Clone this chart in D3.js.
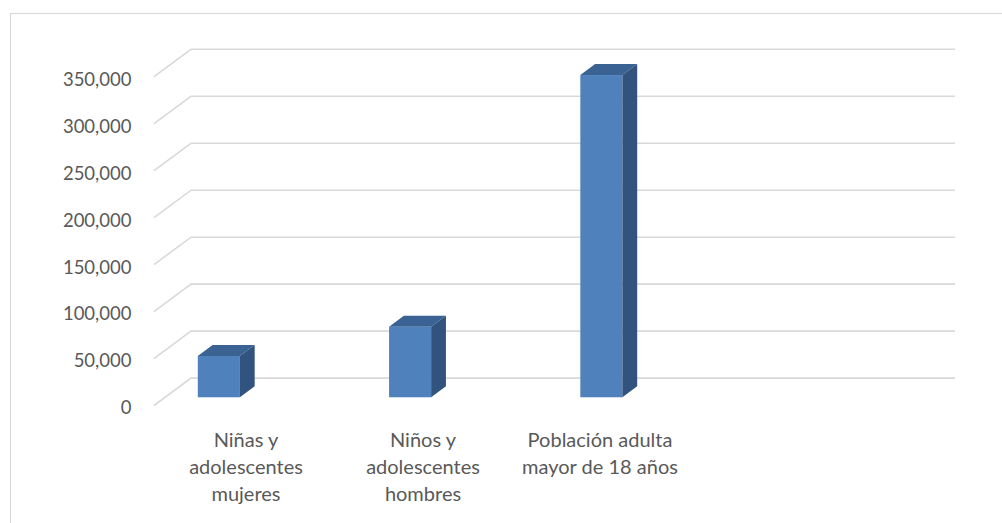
<!DOCTYPE html>
<html>
<head>
<meta charset="utf-8">
<script src="https://cdn.jsdelivr.net/npm/d3@7"></script>
<style>
  html, body { margin: 0; padding: 0; background: #ffffff; }
  svg { display: block; }
  text { font-family: Lato, "Open Sans", sans-serif; fill: #595959; }
</style>
</head>
<body>
<svg id="chart" width="1002" height="523"></svg>
<script>
// ---- data ----
const categories = ["Niñas y adolescentes mujeres", "Niños y adolescentes hombres", "Población adulta mayor de 18 años"];
const categoryLines = [["Niñas y", "adolescentes", "mujeres"], ["Niños y", "adolescentes", "hombres"], ["Población adulta", "mayor de 18 años"]];
const values = [44000, 75000, 343000];
const yTicks = [0, 50000, 100000, 150000, 200000, 250000, 300000, 350000];

// ---- layout ----
const W = 1002, H = 523;
const svg = d3.select("#chart");

// chart border
svg.append("rect")
  .attr("x", 10.5).attr("y", 13.5)
  .attr("width", W + 20).attr("height", H + 20)
  .attr("fill", "none").attr("stroke", "#d9d9d9").attr("stroke-width", 1.2);

// oblique 3D depth offsets (front edge -> back wall)
const DEPTH_X = 37, DEPTH_Y = -27.4;
const frontLeft = 154, backRight = 955;

const y = d3.scaleLinear().domain([0, 350000]).range([405.5, 76.7]);

// bars positioned in front-plane coordinates
const x = d3.scaleBand().domain(categories).range([186.7, 611.3]).paddingInner(0.78).paddingOuter(0);
const xLabel = d3.scalePoint().domain(categories).range([246, 600]);

// gridlines (floor diagonal + back wall)
const grid = svg.append("g");
grid.selectAll("path").data(yTicks).enter().append("path")
  .attr("d", t => {
    const yf = y(t);
    return `M${frontLeft},${yf}L${frontLeft + DEPTH_X},${yf + DEPTH_Y}L${backRight},${yf + DEPTH_Y}`;
  })
  .attr("fill", "none").attr("stroke", "#d9d9d9").attr("stroke-width", 1.6);

// bars
const dFront = 0.30, dBack = 0.70;
const bars = svg.append("g");
const data = categories.map((c, i) => ({ c, v: values[i] }));
const g = bars.selectAll("g").data(data).enter().append("g");
const geom = d => {
  const x0 = x(d.c) + dFront * DEPTH_X;
  const w = x.bandwidth();
  const yt = y(d.v) + dFront * DEPTH_Y;
  const yb = y(0) + dFront * DEPTH_Y;
  const ddx = (dBack - dFront) * DEPTH_X, ddy = (dBack - dFront) * DEPTH_Y;
  return { x0, w, yt, yb, ddx, ddy };
};
g.append("rect")
  .attr("x", d => geom(d).x0).attr("y", d => geom(d).yt)
  .attr("width", d => geom(d).w).attr("height", d => geom(d).yb - geom(d).yt)
  .attr("fill", "#4f81bd");
g.append("path")
  .attr("d", d => { const q = geom(d);
    return `M${q.x0},${q.yt}L${q.x0 + q.w},${q.yt}L${q.x0 + q.w + q.ddx},${q.yt + q.ddy}L${q.x0 + q.ddx},${q.yt + q.ddy}Z`; })
  .attr("fill", "#3a6292");
g.append("path")
  .attr("d", d => { const q = geom(d);
    return `M${q.x0 + q.w},${q.yt}L${q.x0 + q.w + q.ddx},${q.yt + q.ddy}L${q.x0 + q.w + q.ddx},${q.yb + q.ddy}L${q.x0 + q.w},${q.yb}Z`; })
  .attr("fill", "#31537d");

// y axis labels
const yAxis = svg.append("g")
  .attr("transform", "translate(131.5,2.5)")
  .call(d3.axisLeft(y).tickValues(yTicks).tickSize(0).tickPadding(0).tickFormat(d3.format(",")));
yAxis.select(".domain").remove();
yAxis.selectAll("text")
  .attr("font-family", "Lato, 'Open Sans', sans-serif")
  .attr("font-size", 18.5)
  .style("fill", "#595959");

// category labels
const lab = svg.append("g");
lab.selectAll("text").data(categories).enter().append("text")
  .attr("text-anchor", "middle")
  .attr("font-size", 20)
  .each(function (c, i) {
    const t = d3.select(this);
    categoryLines[i].forEach((line, j) => {
      t.append("tspan").attr("x", xLabel(c)).attr("y", 446.5 + j * 27).text(line);
    });
  });
</script>
</body>
</html>
